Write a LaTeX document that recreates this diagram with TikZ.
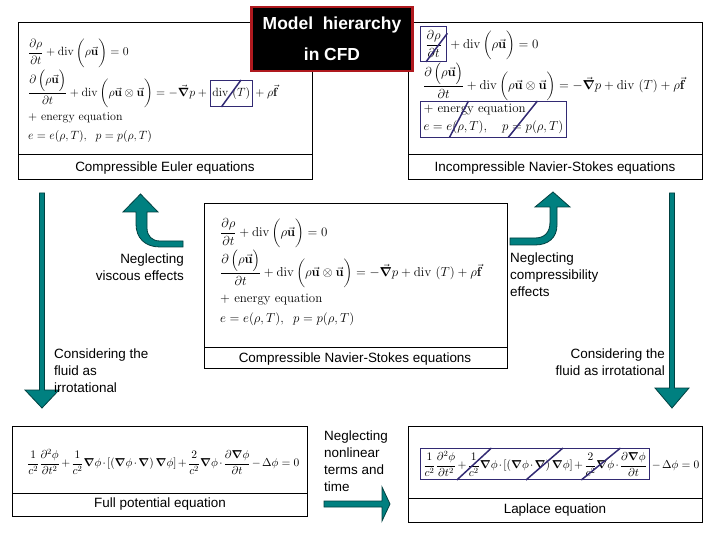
\RequirePackage{fix-cm}
\documentclass[tikz,border=0pt]{standalone}
\usepackage{amsmath}
\usepackage[no-math]{fontspec}
\setsansfont{Liberation Sans}
\usetikzlibrary{positioning}
\usetikzlibrary{calc}

\definecolor{arrowteal}{RGB}{0,128,128}
\definecolor{arrowedge}{RGB}{0,64,64}
\definecolor{strike}{RGB}{50,42,115}
\definecolor{titlered}{RGB}{175,25,30}

\newcommand{\uvec}{\vec{\mathbf{u}}}
\newcommand{\fvec}{\vec{\mathbf{f}}}
\newcommand{\gradb}{\boldsymbol{\nabla}}
\newcommand{\divop}{\mathrm{div}\,}
\newcommand{\tightmath}{\medmuskip=2mu\relax}

\begin{document}
\begin{tikzpicture}[
    x=1bp, y=-1bp,
    frame/.style={draw, line width=1bp},
    caption/.style={font=\sffamily\fontsize{13.5}{17}\selectfont, inner sep=0pt},
    note/.style={font=\sffamily\fontsize{13.5}{17}\selectfont, inner sep=0pt},
    eqn/.style={font=\rmfamily\fontsize{13}{20}\selectfont, inner sep=0pt},
    eulereqn/.style={font=\rmfamily\fontsize{12}{20}\selectfont, inner sep=0pt},
    smalleqn/.style={font=\rmfamily\fontsize{11.5}{14}\selectfont, inner sep=0pt},
    crossbox/.style={draw=strike, line width=1bp, inner sep=2bp, font=\rmfamily\fontsize{13}{20}\selectfont},
    slash/.style={draw=strike, line width=1.5bp},
    blockarrow/.style={fill=arrowteal, draw=arrowedge, line width=0.8bp}
  ]
  \fill[white] (0,0) rectangle (720,540);
  \useasboundingbox (0,0) rectangle (720,540);

  % frames
  \draw[frame] (18,23) rectangle (312,180);
  \draw[frame] (18,155) -- (312,155);
  \draw[frame] (408,23) rectangle (702,180);
  \draw[frame] (408,155) -- (702,155);
  \draw[frame] (204,204) rectangle (507,368);
  \draw[frame] (204,347) -- (507,347);
  \draw[frame] (12,426) rectangle (307,516);
  \draw[frame] (12,493) -- (307,493);
  \draw[frame] (408,426) rectangle (702,522);
  \draw[frame] (408,498) -- (702,498);

  % compressible Euler
  \node[eulereqn, anchor=west] (eu1) at (28,53) {$\displaystyle\frac{\partial\rho}{\partial t}+\divop\biggl(\rho\uvec\biggr)=0$};
  \node[eulereqn, anchor=west] (eu2) at (28,89) {$\displaystyle\frac{\partial\,\Bigl(\rho\uvec\Bigr)}{\partial t}+\divop\biggl(\rho\uvec\otimes\uvec\biggr)=-\vec{\gradb}p+{}$};
  \node[crossbox, eulereqn, inner xsep=2bp, inner ysep=7bp, anchor=base west] (eu2T) at (eu2.base east) {$\divop\left(T\right)$};
  \node[eulereqn, anchor=base west] (eu2f) at (eu2T.base east) {${}+\rho\fvec$};
  \node[eulereqn, anchor=north west, align=left] (eu3) at (28,112) {$+$ energy equation\\$e=e(\rho,T),\;\; p=p(\rho,T)$};
  \draw[slash] ($(eu2T.south west)!0.27!(eu2T.south east)$) -- ($(eu2T.north west)!0.73!(eu2T.north east)$);
  \node[caption] (euc) at (165,168) {Compressible Euler equations};

  % incompressible Navier-Stokes
  \node[crossbox, anchor=west, inner xsep=5bp, inner ysep=4bp] (in1a) at (420,44) {$\displaystyle\frac{\partial\rho}{\partial t}$};
  \node[eqn, anchor=base west] (in1b) at (in1a.base east) {$\displaystyle{}+\divop\biggl(\rho\uvec\biggr)=0$};
  \node[eqn, anchor=west] (in2) at (423,82) {$\displaystyle\frac{\partial\,\Bigl(\rho\uvec\Bigr)}{\partial t}+\divop\biggl(\rho\uvec\otimes\uvec\biggr)=-\vec{\gradb}p+\divop\left(T\right)+\rho\fvec$};
  \node[crossbox, anchor=north west, align=left, inner sep=3bp, font=\rmfamily\fontsize{13}{18}\selectfont] (in3) at (420,101) {$+$ energy equation\\$e=e(\rho,T),\quad p=p(\rho,T)$};
  \draw[slash] ($(in1a.south west)!0.22!(in1a.south east)$) -- ($(in1a.north east)!0.2!(in1a.south east)$);
  \draw[slash] ($(in3.south west)!0.2!(in3.south east)$) -- ($(in3.north west)!0.33!(in3.north east)$);
  \draw[slash] ($(in3.south west)!0.6!(in3.south east)$) -- ($(in3.north west)!0.8!(in3.north east)$);
  \node[caption] (inc) at (555,168) {Incompressible Navier-Stokes equations};

  % compressible Navier-Stokes
  \node[eqn, anchor=west] (cn1) at (220,233) {$\displaystyle\frac{\partial\rho}{\partial t}+\divop\biggl(\rho\uvec\biggr)=0$};
  \node[eqn, anchor=west] (cn2) at (220,269) {$\displaystyle\frac{\partial\,\Bigl(\rho\uvec\Bigr)}{\partial t}+\divop\biggl(\rho\uvec\otimes\uvec\biggr)=-\vec{\gradb}p+\divop\left(T\right)+\rho\fvec$};
  \node[eqn, anchor=north west, align=left] (cn3) at (220,294) {$+$ energy equation\\$e=e(\rho,T),\;\; p=p(\rho,T)$};
  \node[caption] (cnc) at (355,359) {Compressible Navier-Stokes equations};

  % full potential
  \node[smalleqn, anchor=west] (fp) at (27,462) {$\tightmath\displaystyle\frac{1}{c^2}\frac{\partial^2\phi}{\partial t^2}+\frac{1}{c^2}\gradb\phi\cdot\left[\left(\gradb\phi\cdot\gradb\right)\gradb\phi\right]+\frac{2}{c^2}\gradb\phi\cdot\frac{\partial\gradb\phi}{\partial t}-\Delta\phi=0$};
  \node[caption] (fpc) at (160,504) {Full potential equation};

  % Laplace
  \node[crossbox, smalleqn, inner sep=3bp, anchor=west] (lp1) at (420,464) {$\tightmath\displaystyle\frac{1}{c^2}\frac{\partial^2\phi}{\partial t^2}+\frac{1}{c^2}\gradb\phi\cdot\left[\left(\gradb\phi\cdot\gradb\right)\gradb\phi\right]+\frac{2}{c^2}\gradb\phi\cdot\frac{\partial\gradb\phi}{\partial t}$};
  \node[smalleqn, anchor=base west] (lp2) at (lp1.base east) {$\tightmath{}-\Delta\phi=0$};
  \draw[slash] ($(lp1.south west)!0.16!(lp1.south east)$) -- ($(lp1.north west)!0.31!(lp1.north east)$);
  \draw[slash] ($(lp1.south west)!0.46!(lp1.south east)$) -- ($(lp1.north west)!0.62!(lp1.north east)$);
  \draw[slash] ($(lp1.south west)!0.70!(lp1.south east)$) -- ($(lp1.north west)!0.87!(lp1.north east)$);
  \node[caption] (lpc) at (555,510) {Laplace equation};

  % block arrows
  \draw[blockarrow] (39.5,193) -- (44.5,193) -- (44.5,390) -- (59,390) -- (42,408) -- (25,390) -- (39.5,390) -- cycle;
  \draw[blockarrow] (669.5,193) -- (674.5,193) -- (674.5,388) -- (689,388) -- (672,408) -- (655,388) -- (669.5,388) -- cycle;
  \draw[blockarrow] (324,501) -- (382,501) -- (382,487) -- (390,504) -- (382,521) -- (382,507) -- (324,507) -- cycle;
  \draw[blockarrow] (183,247) -- (160,247) .. controls (145,247) and (136,238) .. (136,224) -- (136,212) -- (123,212) -- (140.5,194) -- (158,212) -- (147,212) -- (147,228) .. controls (147,236) and (152,241) .. (160,241) -- (183,241) -- cycle;
  \draw[blockarrow] (510,238) -- (535,238) .. controls (545,238) and (550,232) .. (550,222) -- (550,207) -- (535,207) -- (553,192) -- (570,207) -- (557,207) -- (557,225) .. controls (557,238) and (548,245) .. (535,245) -- (510,245) -- cycle;

  % arrow labels
  \node[note, anchor=east, align=right] (visc) at (184,267) {Neglecting\\viscous effects};
  \node[note, anchor=west, align=left] (comp) at (510,275) {Neglecting\\compressibility\\effects};
  \node[note, anchor=west, align=left] (irrl) at (54,371) {Considering the\\fluid as\\irrotational};
  \node[note, anchor=east, align=right] (irrr) at (665,362) {Considering the\\fluid as irrotational};
  \node[note, anchor=west, align=left] (nonl) at (324,461) {Neglecting\\nonlinear\\terms and\\time};

  % title
  \node[draw=titlered, fill=black, line width=2.5bp, minimum width=161bp, minimum height=64bp, text=white,
        font=\sffamily\bfseries\fontsize{17.5}{31}\selectfont, align=center] (title) at (332,39) {Model\ \ hierarchy\\in CFD};
\end{tikzpicture}
\end{document}
